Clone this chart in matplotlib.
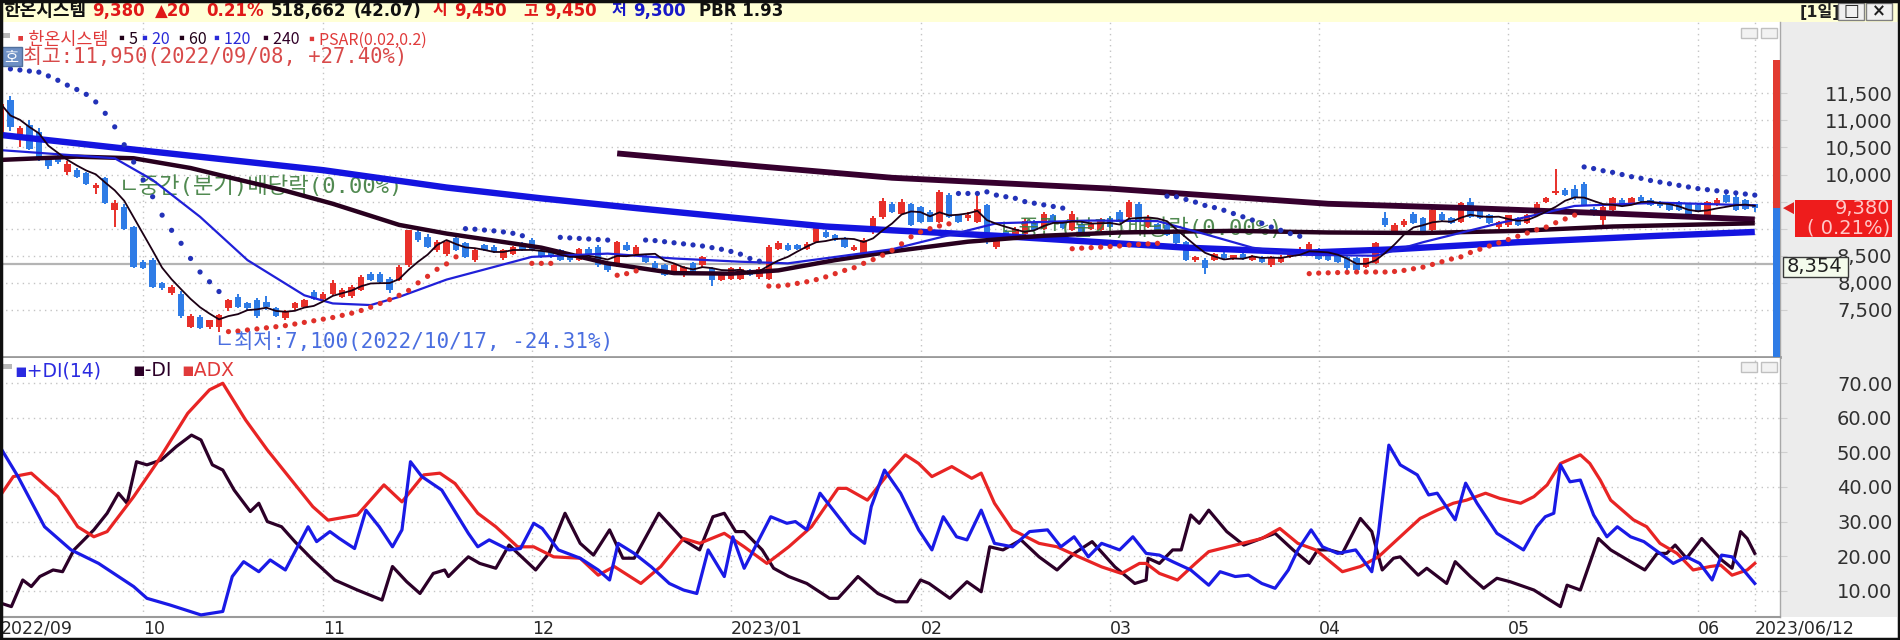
import matplotlib
matplotlib.use('Agg')
import matplotlib.pyplot as plt
from matplotlib.patches import Rectangle, Polygon
import numpy as np
import pandas as pd

plt.rcParams['font.family'] = ['Noto Sans CJK KR', 'DejaVu Sans']

# ---------------- data ----------------
stock_name = '한온시스템'
last_price = 9380
change = 20
change_pct = 0.21
volume = 518662
vol_ratio = 42.07
day_open, day_high, day_low = 9450, 9450, 9300
pbr = 1.93
hi_val, hi_date, hi_pct = 11950, '2022/09/08', 27.40
lo_val, lo_date, lo_pct = 7100, '2022/10/17', -24.31
ref_price = 8354

month_idx = [0, 15, 34, 56, 77, 97, 117, 139, 159, 179, 185]
month_lbl = ['2022/09', '10', '11', '12', '2023/01', '02', '03', '04', '05', '06', '2023/06/12']
price_ticks = [7500, 8000, 8500, 9000, 9500, 10000, 10500, 11000, 11500]
hidden_ticks = [9000, 9500]   # covered by the current-price box
dmi_ticks = [10, 20, 30, 40, 50, 60, 70]

opens = [10700, 11370, 10630, 10910, 10780, 10300, 10350, 10050, 10080, 10020,
         9750, 9930, 9350, 9400, 9030, 8390, 8420, 7990, 7810, 7800,
         7190, 7370, 7190, 7190, 7530, 7740, 7620, 7680, 7650, 7530,
         7350, 7530, 7560, 7830, 7710, 7800, 7740, 7750, 7870, 8170,
         8170, 8080, 8050, 8330, 8940, 8850, 8600, 8540, 8820, 8730,
         8420, 8690, 8660, 8450, 8540, 8720, 8790, 8600, 8570, 8600,
         8540, 8420, 8630, 8660, 8350, 8330, 8700, 8540, 8480, 8360,
         8330, 8170, 8140, 8360, 8330, 8270, 8050, 8080, 8080, 8230,
         8110, 8080, 8620, 8700, 8690, 8620, 8760, 8940, 8880, 8820,
         8600, 8540, 8940, 9220, 9460, 9280, 9460, 9400, 9310, 9130,
         9620, 9250, 9190, 9130, 9430, 8660, 8940, 8850, 8910, 9130,
         9000, 9250, 9120, 8980, 9090, 9000, 8970, 9190, 9310, 9220,
         9460, 9030, 9090, 9060, 8910, 8760, 8420, 8420, 8420, 8540,
         8450, 8540, 8420, 8480, 8330, 8390, 8480, 8540, 8600, 8620,
         8540, 8510, 8480, 8450, 8300, 8360, 9200, 8940, 9060, 9280,
         9190, 8970, 9280, 9190, 9130, 9500, 9340, 9250, 9030, 9060,
         9190, 9100, 9280, 9500, 9650, 9710, 9740, 9830, 9370, 9160,
         9340, 9530, 9460, 9590, 9530, 9500, 9470, 9500, 9460, 9430,
         9220, 9430, 9620, 9590, 9530, 9450]
highs = [11950, 11450, 10900, 11000, 10850, 10350, 10380, 10250, 10120, 10050,
         9850, 9960, 9530, 9450, 9050, 8420, 8450, 8010, 7960, 7850,
         7420, 7400, 7320, 7420, 7700, 7800, 7650, 7720, 7750, 7560,
         7500, 7640, 7700, 7870, 7830, 8050, 7900, 7960, 8150, 8200,
         8200, 8100, 8330, 8980, 9000, 8900, 8800, 8780, 8850, 8760,
         8620, 8720, 8690, 8620, 8680, 8760, 8830, 8640, 8600, 8620,
         8560, 8650, 8660, 8700, 8380, 8780, 8750, 8700, 8520, 8400,
         8350, 8350, 8310, 8380, 8500, 8300, 8200, 8290, 8290, 8260,
         8290, 8700, 8780, 8740, 8720, 8750, 9100, 8980, 8910, 8840,
         8700, 8820, 9230, 9560, 9500, 9540, 9480, 9420, 9340, 9710,
         9660, 9280, 9300, 9620, 9460, 8900, 8970, 9030, 9200, 9160,
         9300, 9280, 9150, 9330, 9120, 9130, 9200, 9230, 9340, 9530,
         9500, 9250, 9110, 9080, 8930, 8780, 8500, 8450, 8560, 8570,
         8520, 8560, 8520, 8500, 8500, 8520, 8630, 8660, 8750, 8650,
         8570, 8530, 8500, 8470, 8460, 8760, 9300, 9100, 9180, 9300,
         9220, 9370, 9300, 9210, 9500, 9560, 9370, 9270, 9150, 9260,
         9210, 9270, 9490, 9580, 10110, 9760, 9800, 9870, 9400, 9420,
         9580, 9560, 9580, 9620, 9560, 9520, 9490, 9520, 9480, 9450,
         9520, 9560, 9660, 9620, 9550, 9450]
lows = [10650, 10800, 10510, 10450, 10250, 10100, 10200, 10000, 9930, 9800,
        9640, 9450, 9030, 8980, 8280, 8250, 7900, 7870, 7780, 7350,
        7160, 7150, 7150, 7100, 7480, 7530, 7500, 7350, 7500, 7370,
        7320, 7500, 7530, 7680, 7680, 7780, 7720, 7720, 7850, 8030,
        8000, 7820, 8030, 8300, 8750, 8640, 8570, 8500, 8580, 8460,
        8380, 8580, 8550, 8420, 8520, 8590, 8580, 8460, 8450, 8400,
        8380, 8400, 8520, 8300, 8200, 8300, 8580, 8500, 8370, 8250,
        8120, 8150, 8100, 8180, 8300, 7940, 8030, 8060, 8060, 8120,
        8080, 8050, 8600, 8580, 8610, 8600, 8740, 8830, 8770, 8650,
        8580, 8520, 8900, 9180, 9290, 9250, 9050, 9100, 9120, 9100,
        9200, 9100, 9150, 9100, 8720, 8620, 8830, 8820, 8880, 8960,
        8980, 9110, 8990, 8950, 8920, 8980, 8950, 9020, 9120, 9200,
        9140, 9010, 8920, 8870, 8700, 8400, 8380, 8170, 8400, 8440,
        8420, 8430, 8400, 8360, 8300, 8370, 8460, 8520, 8580, 8420,
        8400, 8370, 8240, 8210, 8280, 8340, 9040, 8920, 9040, 9080,
        8920, 8950, 9140, 9080, 9100, 9200, 9170, 9080, 9000, 9040,
        9050, 9080, 9260, 9480, 9620, 9600, 9530, 9420, 9230, 9000,
        9320, 9420, 9440, 9500, 9420, 9390, 9330, 9330, 9170, 9300,
        9200, 9410, 9480, 9320, 9340, 9300]
closes = [11300, 10880, 10850, 10480, 10300, 10150, 10230, 10200, 9960, 9830,
          9800, 9470, 9480, 9000, 8300, 8270, 7930, 7900, 7930, 7380,
          7380, 7160, 7310, 7400, 7680, 7560, 7530, 7380, 7560, 7380,
          7480, 7620, 7680, 7710, 7800, 7990, 7860, 7930, 8110, 8050,
          8020, 7870, 8300, 8970, 8790, 8670, 8760, 8760, 8600, 8480,
          8600, 8600, 8570, 8600, 8660, 8610, 8600, 8480, 8480, 8420,
          8420, 8630, 8540, 8330, 8230, 8760, 8600, 8660, 8390, 8270,
          8140, 8330, 8300, 8200, 8480, 8050, 8150, 8270, 8260, 8140,
          8260, 8660, 8740, 8600, 8630, 8720, 9060, 8850, 8790, 8670,
          8670, 8790, 9190, 9520, 9310, 9500, 9070, 9130, 9130, 9680,
          9220, 9130, 9250, 9370, 8820, 8880, 8850, 9000, 9150, 8970,
          9280, 9130, 9010, 9280, 8940, 9110, 9160, 9040, 9130, 9490,
          9160, 9220, 8940, 8880, 8730, 8420, 8480, 8270, 8540, 8450,
          8510, 8450, 8500, 8390, 8480, 8480, 8600, 8630, 8720, 8440,
          8420, 8390, 8270, 8230, 8450, 8730, 9070, 9060, 9150, 9100,
          8940, 9340, 9160, 9100, 9470, 9220, 9190, 9100, 9130, 9250,
          9060, 9250, 9460, 9560, 9690, 9620, 9560, 9440, 9250, 9400,
          9560, 9430, 9560, 9510, 9440, 9410, 9350, 9350, 9190, 9310,
          9490, 9530, 9500, 9340, 9360, 9380]
psar = [np.nan, 11950, 11930, 11910, 11890, 11820, 11740, 11650, 11570, 11480,
        11340, 11130, 10880, 10550, 10230, 9900, 9590, 9250, 8970, 8730,
        8450, 8200, 8020, 7840, 7100, 7110, 7130, 7150, 7170, 7190,
        7210, 7240, 7270, 7300, 7330, 7360, 7400, 7440, 7490, 7550,
        7620, 7690, 7770, 7860, 8000, 8120, 8250, 8350, 8480, 9000,
        8990, 8975, 8960, 8940, 8915, 8870, 8360, 8360, 8360, 8840,
        8830, 8820, 8810, 8800, 8790, 8140, 8170, 8220, 8790, 8780,
        8760, 8740, 8720, 8700, 8680, 8650, 8620, 8580, 8530, 8450,
        8400, 7940, 7940, 7960, 7990, 8020, 8060, 8110, 8170, 8230,
        8280, 8360, 8430, 8510, 8600, 8720, 8850, 8940, 9000, 9050,
        9090, 9650, 9650, 9650, 9680, 9620, 9590, 9560, 9500, 9470,
        9440, 9410, 9380, 8630, 8640, 8650, 8660, 8670, 8680, 8700,
        8710, 8720, 8730, 9600, 9590, 9540, 9490, 9430, 9390, 9340,
        9280, 9220, 9160, 9100, 9030, 8970, 8910, 8860, 8170, 8180,
        8185, 8190, 8195, 8200, 8200, 8200, 8200, 8210, 8230, 8260,
        8290, 8340, 8390, 8440, 8480, 8560, 8620, 8680, 8740, 8800,
        8860, 8920, 8980, 9030, 9110, 9180, 9250, 10140, 10110, 10070,
        10040, 10000, 9960, 9930, 9890, 9860, 9830, 9800, 9770, 9740,
        9720, 9700, 9680, 9660, 9640, 9620]

ma20_i = [0, 12, 16, 21, 26, 32, 35, 39, 42, 47, 56, 64, 71, 78, 83, 94, 100, 105, 115, 122, 127, 132, 137, 145, 150, 158, 166, 175, 185]
ma20_v = [10450, 10300, 9900, 9220, 8420, 7770, 7620, 7590, 7740, 8060, 8480, 8540, 8450, 8390, 8360, 8620, 8880, 9100, 9150, 9140, 8900, 8650, 8520, 8500, 8750, 9100, 9420, 9480, 9430]
ma60_i = [0, 8, 14, 20, 24, 30, 35, 42, 47, 52, 57, 64, 71, 77, 82, 88, 94, 102, 110, 118, 130, 140, 150, 160, 170, 185]
ma60_v = [10270, 10330, 10300, 10120, 9950, 9700, 9460, 9070, 8910, 8780, 8650, 8360, 8180, 8170, 8230, 8420, 8580, 8760, 8870, 8930, 8960, 8930, 8920, 8960, 9040, 9100]
ma120_i = [0, 13, 34, 47, 57, 67, 78, 87, 94, 105, 115, 125, 138, 147, 160, 175, 185]
ma120_v = [10730, 10480, 10080, 9760, 9560, 9380, 9190, 9040, 8970, 8870, 8760, 8650, 8560, 8620, 8750, 8870, 8940]
ma240_i = [65, 80, 94, 117, 140, 155, 170, 185]
ma240_v = [10390, 10150, 9940, 9740, 9460, 9380, 9280, 9170]

pdi_i = [0.1, 1.8, 4.6, 7.4, 10.3, 14.0, 15.4, 17.8, 21.1, 23.4, 24.4, 25.6, 27.2, 28.4, 30.0, 32.4, 33.3, 34.7, 35.7, 37.3,
         38.5, 39.9, 41.3, 42.3, 43.2, 44.4, 46.5, 49.3, 50.3, 51.5, 53.6, 54.8, 56.2, 57.1, 58.8, 61.1, 63.0, 64.2, 65.1, 66.8,
         68.6, 70.5, 72.0, 73.4, 74.6, 76.3, 77.2, 78.4, 81.2, 82.9, 83.8, 85.0, 86.4, 87.8, 89.7, 91.1, 91.8, 93.2, 94.9, 96.8,
         98.2, 99.4, 100.8, 101.9, 103.4, 104.8, 106.7, 108.5, 110.4, 111.8, 113.2, 114.7, 116.1, 118.0, 119.4, 120.8, 122.2, 123.6, 125.5, 127.4,
         128.6, 130.2, 131.6, 133.0, 134.4, 135.8, 136.8, 138.2, 139.4, 141.0, 142.9, 144.6, 145.3, 146.4, 147.6, 149.4, 150.6, 151.5, 153.4, 154.5,
         155.7, 157.8, 159.2, 160.6, 162.0, 162.9, 163.8, 164.5, 165.5, 166.6, 168.0, 169.4, 170.5, 171.9, 173.3, 175.0, 176.4, 177.8, 179.2, 180.5,
         181.5, 182.6, 183.8, 185.0]
pdi_v = [50.7, 43.0, 28.5, 21.8, 17.9, 11.2, 7.8, 5.9, 3.0, 4.0, 14.1, 18.4, 15.5, 18.9, 16.0, 28.5, 24.2, 27.1, 25.1, 22.2,
         33.3, 28.5, 22.7, 27.6, 47.3, 43.0, 39.1, 26.6, 22.7, 24.7, 21.8, 22.2, 29.5, 28.0, 21.8, 19.4, 16.0, 13.1, 23.7, 20.8,
         16.9, 12.1, 10.2, 9.2, 21.8, 14.1, 25.6, 16.5, 31.4, 29.5, 30.0, 27.6, 38.2, 33.3, 26.6, 23.7, 34.3, 44.9, 38.2, 27.6,
         21.8, 31.4, 25.6, 24.7, 33.3, 23.7, 22.7, 27.1, 27.6, 22.7, 25.6, 19.8, 23.7, 21.8, 25.6, 20.8, 20.3, 18.4, 16.0, 11.6,
         15.5, 14.1, 14.5, 12.1, 10.7, 16.0, 21.8, 27.6, 22.7, 20.8, 21.8, 15.5, 26.6, 52.1, 46.4, 43.5, 37.7, 38.2, 30.5, 41.1,
         35.3, 26.6, 24.2, 21.8, 28.5, 31.4, 32.4, 46.4, 41.5, 42.0, 31.9, 25.6, 28.5, 25.6, 24.2, 20.8, 17.9, 19.8, 17.9, 13.1,
         20.3, 19.8, 16.0, 12.1]
mdi_i = [0.1, 1.1, 2.3, 3.2, 4.1, 5.5, 6.5, 7.7, 9.8, 11.2, 12.4, 13.3, 14.3, 15.4, 16.9, 18.5, 20.1, 21.1, 22.3, 23.4,
         24.6, 26.3, 27.2, 28.1, 29.6, 31.0, 32.9, 35.2, 37.6, 40.2, 41.3, 42.8, 44.2, 45.6, 46.8, 47.2, 48.4, 49.3, 50.5, 52.2,
         53.6, 56.4, 57.8, 59.5, 61.1, 62.5, 64.2, 65.6, 66.8, 69.4, 72.0, 73.7, 75.1, 76.3, 77.5, 78.4, 80.3, 81.5, 83.1, 85.0,
         87.4, 88.3, 90.4, 92.5, 94.4, 95.6, 97.0, 97.9, 100.1, 101.9, 103.4, 104.3, 105.7, 107.6, 109.5, 111.4, 113.2, 115.1, 117.5, 119.6,
         120.8, 121.0, 122.2, 123.6, 124.5, 125.5, 126.4, 127.4, 129.3, 131.1, 134.4, 136.3, 138.0, 138.9, 140.1, 141.5, 143.4, 144.6, 145.7, 146.9,
         147.6, 149.5, 150.4, 152.5, 153.4, 155.0, 156.4, 157.8, 159.2, 161.7, 163.1, 164.5, 165.2, 166.6, 168.5, 169.8, 172.2, 173.4, 174.7, 175.7,
         176.6, 177.8, 179.4, 181.5, 182.6, 183.5, 184.2, 185.0]
mdi_v = [6.3, 5.4, 13.1, 11.2, 14.1, 16.0, 15.5, 21.8, 27.6, 32.4, 38.2, 35.3, 47.3, 46.4, 47.8, 51.7, 55.0, 53.6, 46.4, 44.9,
         39.1, 32.9, 35.3, 30.0, 28.5, 24.2, 18.9, 13.1, 10.2, 7.3, 17.0, 12.6, 9.2, 15.0, 16.0, 14.1, 17.4, 19.8, 17.9, 16.5,
         23.2, 16.0, 20.8, 32.4, 23.7, 20.3, 27.6, 19.4, 19.4, 32.4, 24.7, 21.8, 31.4, 32.4, 27.1, 27.1, 21.8, 16.5, 14.1, 12.1,
         7.8, 7.8, 14.1, 9.2, 6.8, 6.8, 13.1, 12.1, 7.8, 12.6, 9.7, 22.7, 21.8, 24.7, 19.8, 16.0, 20.8, 24.2, 16.9, 12.1,
         13.1, 19.4, 17.9, 21.8, 21.8, 31.9, 29.5, 33.3, 27.1, 23.2, 26.6, 21.8, 17.9, 21.8, 21.8, 20.8, 30.9, 27.1, 16.0, 19.4,
         19.8, 14.5, 16.5, 12.1, 18.4, 14.1, 10.7, 13.6, 12.6, 10.2, 7.8, 5.4, 11.6, 10.2, 25.1, 21.8, 17.9, 16.0, 20.8, 20.8,
         23.2, 19.4, 25.1, 18.9, 16.5, 27.1, 25.1, 20.8]
adx_i = [0.1, 1.3, 3.2, 6.0, 8.1, 9.8, 11.2, 14.0, 16.4, 19.7, 22.0, 23.4, 25.8, 28.1, 30.5, 32.9, 34.5, 37.6, 40.4, 42.3,
         44.6, 46.3, 47.9, 50.3, 52.2, 54.5, 56.2, 58.3, 61.1, 63.0, 64.7, 67.5, 69.6, 72.0, 73.7, 76.3, 78.4, 80.8, 83.1, 85.5,
         88.3, 89.2, 91.4, 93.5, 95.4, 96.8, 98.2, 100.3, 102.4, 103.4, 104.8, 106.7, 109.5, 111.4, 113.7, 116.1, 118.2, 120.1, 120.8, 122.2,
         124.1, 126.0, 127.4, 130.2, 133.0, 134.9, 136.8, 138.7, 141.5, 143.4, 145.3, 147.6, 149.7, 151.5, 153.2, 154.6, 156.6, 158.1, 160.3, 161.7,
         163.1, 164.5, 166.6, 167.6, 168.7, 169.8, 172.2, 173.6, 175.0, 176.8, 178.5, 180.3, 181.4, 182.6, 184.2, 185.0]
adx_v = [38.2, 43.0, 44.0, 37.2, 28.5, 25.6, 27.1, 37.2, 46.8, 61.3, 68.1, 70.0, 59.4, 50.7, 42.5, 34.3, 30.4, 31.9, 40.6, 35.7,
         43.5, 44.0, 41.0, 32.4, 28.5, 22.7, 22.7, 19.8, 19.4, 14.5, 17.0, 12.1, 17.0, 25.1, 23.7, 26.6, 22.7, 17.9, 22.7, 28.5,
         39.6, 39.6, 36.2, 43.5, 49.3, 46.8, 43.0, 45.9, 42.5, 44.0, 35.3, 27.6, 23.7, 22.7, 19.8, 16.9, 15.0, 17.9, 17.9, 15.0,
         13.1, 17.9, 21.3, 23.2, 25.1, 28.0, 23.7, 21.8, 15.5, 17.0, 19.8, 25.6, 30.9, 33.3, 35.3, 36.2, 38.2, 36.7, 35.3, 37.2,
         40.6, 46.8, 49.3, 46.8, 42.0, 36.2, 30.5, 28.5, 23.7, 20.8, 16.0, 17.0, 17.4, 14.5, 16.0, 17.9]

# ---------------- layout helpers ----------------
W, H = 1900, 640
fig = plt.figure(figsize=(19, 6.4), dpi=100)
fig.patch.set_facecolor('white')

def fx(px):
    return px / W

def fy(py):
    return 1 - py / H

RED = '#e8302a'
BLUE_C = '#2f7ce6'
BLUE_L = '#1414e0'
GRID = '#c4c4c4'
MONO = ['DejaVu Sans Mono', 'Noto Sans CJK KR']
SANS = ['DejaVu Sans', 'Noto Sans CJK KR']
CJK = ['Noto Sans CJK KR', 'DejaVu Sans']

n = len(closes)
xi = np.arange(n)
o = np.array(opens, float); h = np.array(highs, float)
l = np.array(lows, float); c = np.array(closes, float)
XMIN, XMAX = -0.1, 187.66
YMIN, YMAX = 6631, 12816

# right gray panel (behind)
fig.patches.append(Rectangle((fx(1780), fy(617)), fx(1897 - 1780), (617 - 22) / H,
                             transform=fig.transFigure, facecolor='#ececec', edgecolor='none', zorder=-5))
# header band
fig.patches.append(Rectangle((0, fy(22)), 1, 22 / H, transform=fig.transFigure,
                             facecolor='#ffffd6', edgecolor='none', zorder=-5))

# ---------------- main price panel ----------------
ax = fig.add_axes([0, fy(357), fx(1780), (357 - 22) / H])
ax.set_xlim(XMIN, XMAX)
ax.set_ylim(YMIN, YMAX)
for p in price_ticks:
    ax.axhline(p, color=GRID, lw=1, ls=(0, (1, 3)), zorder=0)
for m in month_idx[1:]:
    ax.axvline(m, color=GRID, lw=1, ls=(0, (1, 3)), zorder=0)
ax.axhline(ref_price, color='#b4b4b4', lw=1.6, zorder=1)

up = c >= o
col = np.where(up, RED, BLUE_C)
ax.vlines(xi, l, h, colors=col, lw=1.4, zorder=2)
body_h = np.maximum(np.abs(c - o), 14)
ax.bar(xi, body_h, bottom=np.minimum(o, c), width=0.68, color=col, linewidth=0, zorder=2)

div_text = 'ㄴ중간(분기)배당락(0.00%)'
ax.text(12.4, 9780, div_text, ha='left', va='center', fontsize=16, color='#3e7d3e', alpha=0.9, family=MONO, zorder=2.5)
ax.text(105.3, 9010, div_text, ha='left', va='center', fontsize=16, color='#3e7d3e', alpha=0.9, family=MONO, zorder=2.5)

ma5 = pd.Series(closes).rolling(5, min_periods=1).mean()
ax.plot(ma240_i, ma240_v, color='#36002e', lw=4.2, zorder=3, solid_capstyle='butt')
ax.plot(ma120_i, ma120_v, color=BLUE_L, lw=4.6, zorder=3, solid_capstyle='butt')
ax.plot(ma60_i, ma60_v, color='#28001e', lw=3.2, zorder=3, solid_capstyle='butt')
ax.plot(ma20_i, ma20_v, color='#2020d8', lw=1.6, zorder=4)
ax.plot(xi, ma5, color='#1c0014', lw=1.3, zorder=4)

ps = np.array(psar, float)
ps_col = np.where(ps > c, '#2332b8', '#e0302a')
ok = ~np.isnan(ps)
ax.scatter(xi[ok], ps[ok], s=14, c=ps_col[ok], linewidths=0, zorder=5)

for sp in ['top', 'left']:
    ax.spines[sp].set_visible(False)
ax.spines['bottom'].set_color('#9a9a9a'); ax.spines['bottom'].set_linewidth(2)
ax.spines['right'].set_color('#a8a8a8'); ax.spines['right'].set_linewidth(1)
ax.set_xticks([])
ax.yaxis.tick_right()
ax.set_yticks(price_ticks)
ax.set_yticklabels(['' if p in hidden_ticks else f'{p:,}' for p in price_ticks],
                   fontsize=14, color='#303030', family=SANS)
ax.tick_params(axis='y', length=5, color='#cfcfcf', pad=76)
for lab in ax.get_yticklabels():
    lab.set_horizontalalignment('right')

# high / low annotations
fig.patches.append(Rectangle((0, fy(66)), fx(22), 19 / H, transform=fig.transFigure,
                             facecolor='#6e90c4', edgecolor='#50709c', lw=1, zorder=6))
fig.text(fx(11), fy(57), '호', ha='center', va='center', fontsize=11, color='white', family=CJK, zorder=7)
fig.text(fx(23), fy(57), f'최고:{hi_val:,}({hi_date}, +{hi_pct:.2f}%)', ha='left', va='center',
         fontsize=14.8, color='#d84a4a', family=MONO, zorder=7)
ax.text(22.6, YMIN + (357 - 342) / 0.05416, f'ㄴ최저:{lo_val:,}({lo_date}, {lo_pct:.2f}%)', ha='left', va='center',
        fontsize=15, color='#4a6ee0', family=MONO, zorder=7)

# legend row
fig.patches.append(Rectangle((fx(1), fy(38)), fx(9), 5 / H, transform=fig.transFigure,
                             facecolor='#b8b8b8', edgecolor='none', zorder=6))
leg = [(12, '▪' + stock_name, '#e03a3a', 12.5), (113, '▪5', '#200018', 11.5), (136, '▪20', '#2a2ad8', 11.5),
       (173, '▪60', '#200018', 11.5), (208, '▪120', '#2a2ad8', 11.5), (257, '▪240', '#300028', 11.5),
       (303, '▪PSAR(0.02,0.2)', '#e03a3a', 11.5)]
for xp, t, cc, fs in leg:
    fig.text(fx(xp), fy(40), t, ha='left', va='center', fontsize=fs, color=cc, family=CJK, zorder=7)

# ---------------- DMI panel ----------------
ax2 = fig.add_axes([0, fy(617), fx(1780), (617 - 358) / H])
ax2.set_xlim(XMIN, XMAX)
ax2.set_ylim(2.4, 77.3)
for v in dmi_ticks:
    ax2.axhline(v, color=GRID, lw=1, ls=(0, (1, 3)), zorder=0)
for m in month_idx[1:]:
    ax2.axvline(m, color=GRID, lw=1, ls=(0, (1, 3)), zorder=0)
ax2.plot(mdi_i, mdi_v, color='#2c0028', lw=2.3, zorder=3)
ax2.plot(adx_i, adx_v, color='#e82424', lw=2.3, zorder=3)
ax2.plot(pdi_i, pdi_v, color='#1a1ae6', lw=2.3, zorder=4)
for sp in ['top', 'left']:
    ax2.spines[sp].set_visible(False)
ax2.spines['bottom'].set_color('#9a9a9a'); ax2.spines['bottom'].set_linewidth(1.5)
ax2.spines['right'].set_color('#a8a8a8'); ax2.spines['right'].set_linewidth(1)
ax2.yaxis.tick_right()
ax2.set_yticks(dmi_ticks)
ax2.set_yticklabels([f'{v:.2f}' for v in dmi_ticks], fontsize=14, color='#303030', family=SANS)
ax2.tick_params(axis='y', length=5, color='#cfcfcf', pad=76)
for lab in ax2.get_yticklabels():
    lab.set_horizontalalignment('right')
ax2.set_xticks(month_idx)
ax2.set_xticklabels(month_lbl, fontsize=12.5, color='#282828', family=SANS)
ax2.tick_params(axis='x', length=0, pad=2)
for lab in ax2.get_xticklabels():
    lab.set_horizontalalignment('left')

fig.patches.append(Rectangle((fx(1), fy(369)), fx(11), 5 / H, transform=fig.transFigure,
                             facecolor='#b8b8b8', edgecolor='none', zorder=6))
for xp, t, cc in [(14, '▪+DI(14)', '#2a2ae0'), (132, '▪-DI', '#2c0028'), (181, '▪ADX', '#e03a3a')]:
    fig.text(fx(xp), fy(371), t, ha='left', va='center', fontsize=13.5, color=cc, family=SANS, zorder=7)

# small panel buttons
for yb in (28, 362):
    for xb in (1741, 1761):
        fig.patches.append(Rectangle((fx(xb), fy(yb + 10)), fx(16), 10 / H, transform=fig.transFigure,
                                     facecolor='#f2f2f2', edgecolor='#c0c0c0', lw=1, zorder=6))

# ---------------- right side markers ----------------
ypix_last = 93.3 + (11500 - last_price) * 0.05416
fig.patches.append(Rectangle((fx(1773), fy(ypix_last)), fx(7), (ypix_last - 60) / H, transform=fig.transFigure,
                             facecolor='#e23a30', edgecolor='none', zorder=8))
fig.patches.append(Rectangle((fx(1773), fy(357)), fx(7), (357 - ypix_last) / H, transform=fig.transFigure,
                             facecolor='#2f7ce6', edgecolor='none', zorder=8))
fig.patches.append(Polygon([(fx(1783), fy(ypix_last)), (fx(1794), fy(ypix_last - 6)), (fx(1794), fy(ypix_last + 6))],
                           closed=True, transform=fig.transFigure, facecolor='#e02020', edgecolor='none', zorder=8))
fig.patches.append(Rectangle((fx(1795), fy(237)), fx(97), 37 / H, transform=fig.transFigure,
                             facecolor='#ee1c1c', edgecolor='none', zorder=8))
fig.text(fx(1890), fy(209), f'{last_price:,}', ha='right', va='center', fontsize=14, color='#ffc8c8', family=SANS, zorder=9)
fig.text(fx(1890), fy(228), f'( {change_pct:.2f}%)', ha='right', va='center', fontsize=14, color='#ffc8c8', family=SANS, zorder=9)
fig.patches.append(Rectangle((fx(1783), fy(277)), fx(65), 20 / H, transform=fig.transFigure,
                             facecolor='#f4fbec', edgecolor='#3a3a3a', lw=1, zorder=8))
fig.text(fx(1815), fy(267), f'{ref_price:,}', ha='center', va='center', fontsize=14, color='#202020', family=SANS, zorder=9)

# ---------------- header ----------------
hdr = [(3, stock_name, '#101010', 13), (92, f'{last_price:,}', '#e01818', 12), (155, f'▲{change}', '#e01818', 12),
       (206, f'{change_pct:.2f}%', '#e01818', 12), (271, f'{volume:,}', '#101010', 12),
       (354, f'({vol_ratio:.2f})', '#101010', 12),
       (433, '시', '#e01818', 11.5), (454, f'{day_open:,}', '#e01818', 12), (523, '고', '#e01818', 11.5),
       (544, f'{day_high:,}', '#e01818', 12), (612, '저', '#1818c8', 11.5), (633, f'{day_low:,}', '#1818c8', 12),
       (699, f'PBR {pbr:.2f}', '#101010', 12)]
for xp, t, cc, fs in hdr:
    fig.text(fx(xp), fy(11), t, ha='left', va='center', fontsize=fs, fontweight='bold', color=cc, family=SANS)
fig.text(fx(1800), fy(11), '[1일]', ha='left', va='center', fontsize=11.5, fontweight='bold', color='#202020', family=SANS)
for xb, sym in ((1838, '□'), (1866, '×')):
    fig.patches.append(Rectangle((fx(xb), fy(20)), fx(26), 17 / H, transform=fig.transFigure,
                                 facecolor='#f0f0f0', edgecolor='#808080', lw=1, zorder=6))
    fig.text(fx(xb + 13), fy(11), sym, ha='center', va='center', fontsize=12, fontweight='bold', color='#202020', family=SANS, zorder=7)

# outer frame
fig.patches.append(Rectangle((0.0005, 0.001), 0.999, 0.998, transform=fig.transFigure,
                             facecolor='none', edgecolor='#101010', lw=2.5, zorder=10))

fig.savefig('out.png', dpi=100)
